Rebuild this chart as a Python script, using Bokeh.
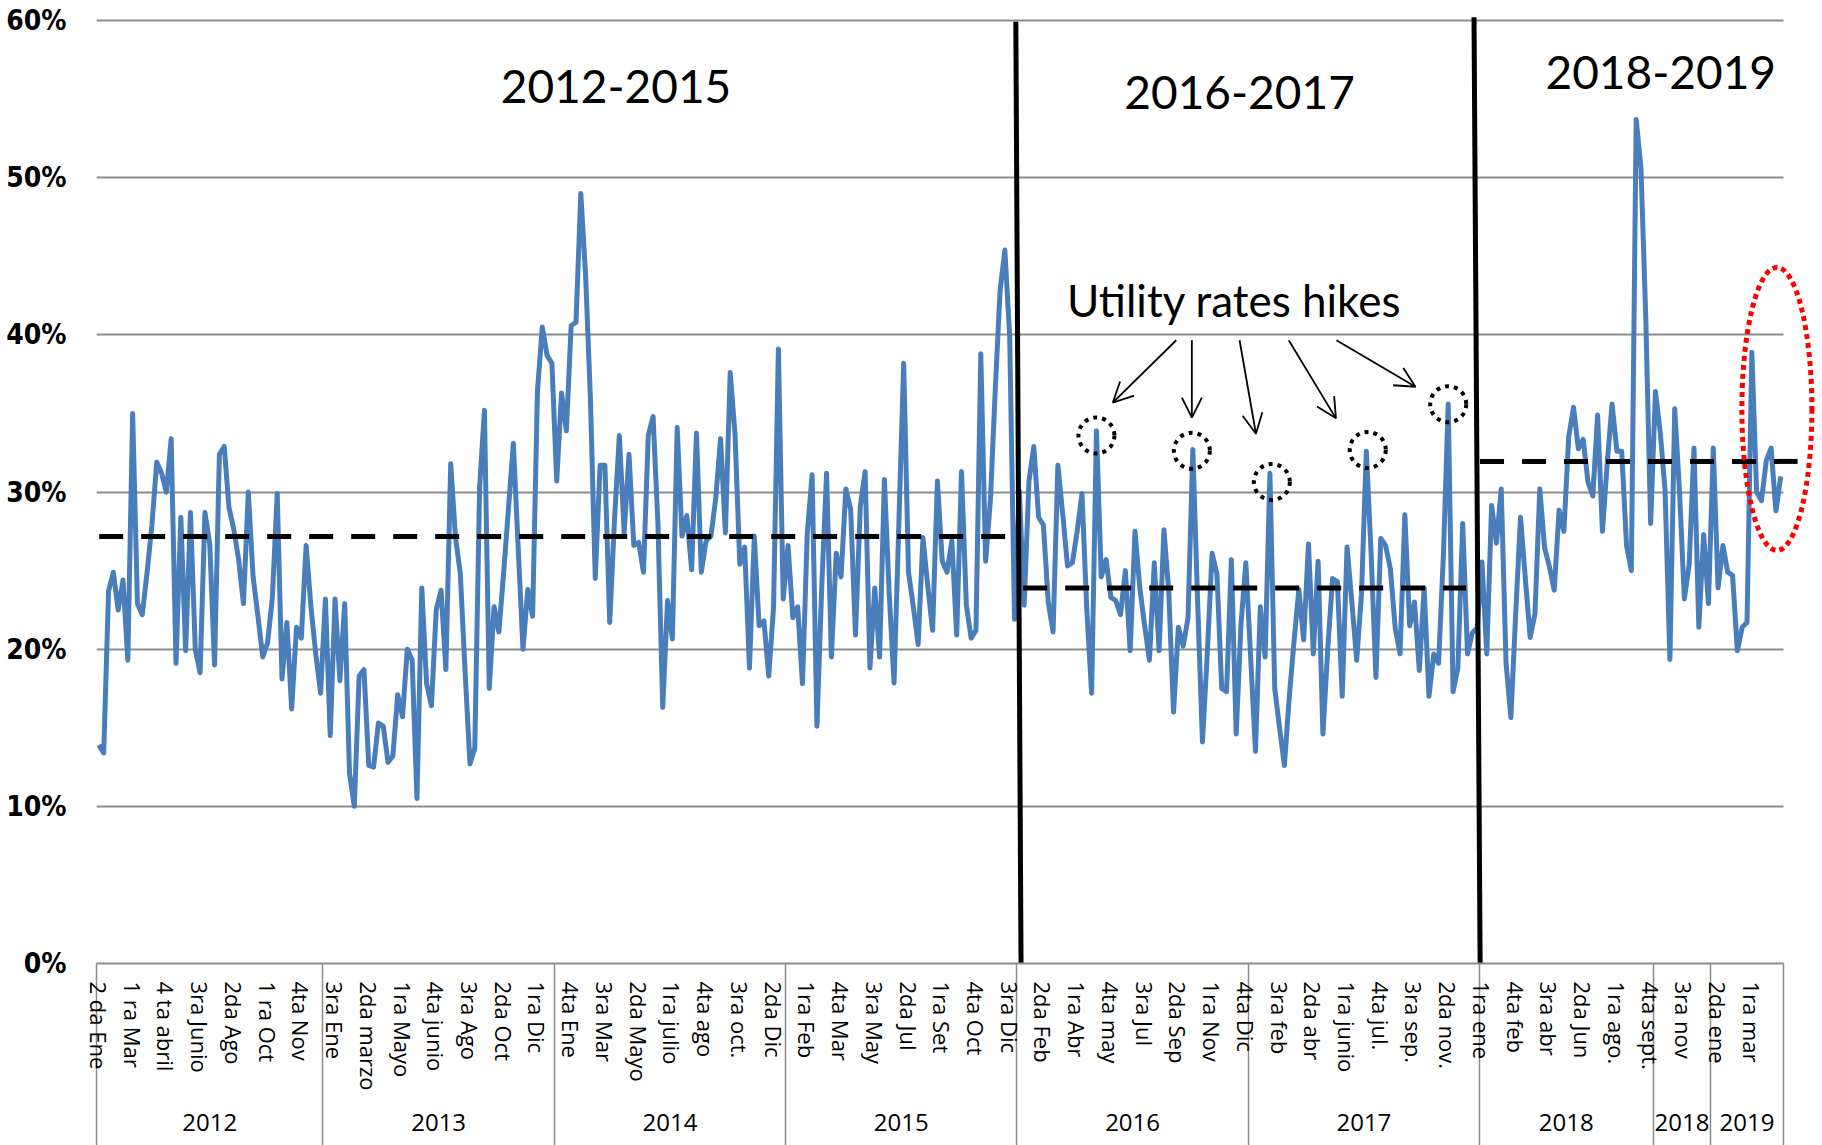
from bokeh.plotting import figure
from bokeh.models import (Range1d, FixedTicker, LinearAxis, PrintfTickFormatter,
                          Arrow, OpenHead)
from bokeh.core.properties import value
from bokeh.embed import file_html
from bokeh.resources import INLINE

# ---------------- data (weekly share, %) ----------------
v2012 = [13.9, 13.4, 23.7, 24.9, 22.5, 24.4, 19.3, 35.0, 22.9, 22.2,
         24.9, 27.9, 31.9, 31.2, 30.0, 33.4, 19.1, 28.4, 19.9, 28.7,
         20.0, 18.5, 28.7, 26.7, 19.0, 32.4, 32.9, 29.0, 27.6, 25.7,
         22.9, 30.0, 24.6, 22.1, 19.5, 20.4, 23.3, 29.9, 18.1, 21.7,
         16.2, 21.4, 20.7, 26.6, 22.7, 19.7, 17.2]
v2013 = [23.2, 14.5, 23.2, 18.0, 22.9, 12.1, 10.0, 18.3, 18.7, 12.6,
         12.5, 15.3, 15.1, 12.8, 13.2, 17.1, 15.7, 20.0, 19.3, 10.5,
         23.9, 17.8, 16.4, 22.5, 23.75, 18.7, 31.8, 27.1, 24.8, 18.5,
         12.7, 13.7, 30.3, 35.2, 17.5, 22.7, 21.1, 24.9, 29.0, 33.1,
         26.5, 20.0, 23.8, 22.1, 36.4, 40.5, 38.7, 38.2]
v2014 = [30.7, 36.3, 33.9, 40.6, 40.8, 49.0, 43.75, 35.9, 24.5, 31.7,
         31.7, 21.7, 28.3, 33.6, 27.4, 32.4, 26.6, 26.8, 24.9, 33.6,
         34.8, 28.0, 16.3, 23.1, 20.65, 34.1, 27.2, 28.5, 25.05, 33.75,
         24.9, 26.9, 27.2, 29.6, 33.4, 27.4, 37.6, 33.7, 25.4, 26.5,
         18.8, 27.2, 21.5, 21.8, 18.3, 22.7, 39.1, 23.2]
v2015 = [26.6, 22.0, 22.7, 17.8, 27.4, 31.1, 15.1, 24.0, 31.2, 19.5,
         26.1, 24.6, 30.2, 28.9, 20.9, 29.1, 31.3, 18.8, 23.9, 19.5,
         30.8, 23.5, 17.85, 28.0, 38.2, 24.9, 22.7, 20.3, 27.1, 24.0,
         21.2, 30.7, 25.6, 24.9, 26.9, 20.9, 31.3, 22.8, 20.7, 21.2,
         38.8, 25.6, 29.5, 36.5, 42.8, 45.4, 39.9, 21.9]
v2016 = [30.1, 22.8, 30.7, 32.9, 28.4, 27.9, 23.0, 21.1, 31.7, 28.6,
         25.3, 25.5, 27.5, 29.9, 22.5, 17.2, 33.9, 24.6, 25.7, 23.3,
         23.1, 22.2, 25.0, 19.9, 27.5, 23.9, 21.5, 19.3, 25.5, 19.9,
         27.6, 23.7, 16.0, 21.4, 20.2, 22.0, 32.7, 23.0, 14.1, 19.7,
         26.1, 24.8, 17.5, 17.3, 25.7, 14.6, 21.6, 25.5]
v2017 = [19.5, 13.5, 22.7, 19.5, 31.2, 17.5, 15.0, 12.6, 16.9, 20.5,
         23.8, 20.6, 26.7, 19.7, 25.6, 14.6, 20.0, 24.5, 24.3, 17.0,
         26.5, 23.0, 19.3, 23.5, 32.6, 26.1, 18.2, 27.05, 26.6, 25.1,
         21.35, 19.7, 28.55, 21.5, 23.0, 18.65, 23.9, 17.0, 19.7, 19.1,
         26.0, 35.6, 17.3, 18.8, 28.0, 19.7, 21.05, 21.35]
v2018 = [25.55, 19.7, 29.15, 26.75, 30.2, 19.1, 15.65, 22.25, 28.4, 24.5,
         20.75, 22.25, 30.2, 26.45, 25.25, 23.75, 28.85, 27.5, 33.5, 35.4,
         32.75, 33.35, 30.65, 29.75, 34.9, 27.5, 31.85, 35.6, 32.6, 32.6,
         26.6, 25.0, 53.7, 50.6, 41.0, 28.0, 36.4, 33.8, 30.1, 19.35,
         35.3, 30.0, 23.2, 25.4, 32.8, 21.4, 27.3, 22.9]
v2019 = [32.8, 23.9, 26.6, 24.9, 24.7, 19.9, 21.4, 21.7, 38.9, 30.0,
         29.45, 32.0, 32.8, 28.8, 31.0]

values = v2012 + v2013 + v2014 + v2015 + v2016 + v2017 + v2018 + v2019
week_idx = list(range(len(values)))

# category tick labels (every 7th week) and year groups
label_idx = [0, 7, 14, 21, 28, 35, 42, 49, 56, 63, 70, 77, 84, 91,
             98, 105, 112, 119, 126, 133, 140, 147, 154, 161, 168, 175, 182, 189,
             196, 203, 210, 217, 224, 231, 238, 245, 252, 259, 266, 273, 280,
             287, 294, 301, 308, 315, 322, 329, 336, 343]
label_txt = ["2 da Ene", "1 ra Mar", "4 ta abril", "3ra Junio", "2da Ago", "1 ra Oct", "4ta Nov",
             "3ra Ene", "2da marzo", "1ra Mayo", "4ta junio", "3ra Ago", "2da Oct", "1ra Dic",
             "4ta Ene", "3ra Mar", "2da Mayo", "1ra julio", "4ta ago", "3ra oct.", "2da Dic",
             "1ra Feb", "4ta Mar", "3ra May", "2da Jul", "1ra Set", "4ta Oct", "3ra Dic",
             "2da Feb", "1ra Abr", "4ta may", "3ra Jul", "2da Sep", "1ra Nov", "4ta Dic",
             "3ra feb", "2da abr", "1ra junio", "4ta jul.", "3ra sep.", "2da nov.",
             "1ra ene", "4ta feb", "3ra abr", "2da Jun", "1ra ago.", "4ta sept.", "3ra nov",
             "2da ene", "1ra mar"]
year_txt = ["2012", "2013", "2014", "2015", "2016", "2017", "2018", "2018", "2019"]
year_bounds = [-0.5, 46.5, 94.5, 142.5, 190.5, 238.5, 286.5, 322.5, 334.5, 349.5]
year_centers = [(a + b) / 2 for a, b in zip(year_bounds[:-1], year_bounds[1:])]

# period averages
period_names = ["2012-2015", "2016-2017", "2018-2019"]
period_avg = [27.17, 23.9, 31.95]
avg_start = [0.06, 191.8, 286.6]
avg_end = [188.1, 283.7, 352.5]

y_ticks = [0, 10, 20, 30, 40, 50, 60]

# ---------------- annotation placement ----------------
period_x = [107.3, 236.7, 324.1]
period_y = [55.8, 55.4, 56.7]
div_x_top = [190.27, 285.35]
div_y_top = [59.92, 60.21]
div_x_bot = [191.35, 286.62]
div_y_bot = [0, 0]
hike_x = [207.0, 226.8, 243.4, 263.3, 280.0]
hike_y = [33.6, 32.63, 30.64, 32.68, 35.59]
arr_x0 = [223.55, 226.8, 236.7, 246.9, 256.8]
arr_y0 = [39.66, 39.66, 39.66, 39.66, 39.66]
arr_x1 = [210.4, 226.8, 240.1, 256.7, 273.2]
arr_y1 = [35.69, 34.73, 33.71, 34.69, 36.70]

NARROW = "DejaVu Sans Condensed, Liberation Sans Narrow, sans-serif"
GRID = "#8c8c8c"
SEP_LEN = 190

W, H = 1816, 1145
LEFT, TOP, BOTTOM = 96, 12, 182
PX_PER_WEEK = 4.819
PX_PER_PCT = 15.715

p = figure(width=W, height=H, output_backend="svg", toolbar_location=None,
           x_range=Range1d(-0.5, -0.5 + (W - LEFT) / PX_PER_WEEK),
           y_range=Range1d(0, (H - TOP - BOTTOM) / PX_PER_PCT),
           min_border_left=LEFT, min_border_right=0, min_border_top=TOP,
           min_border_bottom=BOTTOM)
p.outline_line_color = None
p.background_fill_color = "white"

# x axis 1 : week labels + year separators (minor ticks running to the bottom)
ax = p.below[0]
ax.ticker = FixedTicker(ticks=label_idx, minor_ticks=year_bounds)
ax.major_label_overrides = dict(zip(label_idx, label_txt))
ax.major_label_orientation = "vertical"
ax.major_tick_out = 0
ax.major_tick_in = 0
ax.minor_tick_in = 0
ax.minor_tick_out = SEP_LEN
ax.minor_tick_line_color = GRID
ax.minor_tick_line_width = 1.5
ax.axis_line_color = GRID
ax.axis_line_width = 2
ax.bounds = (-0.5, 349.5)
ax.major_label_standoff = 18 - SEP_LEN
ax.major_label_text_font = "Open Sans"
ax.major_label_text_font_size = "22px"
ax.major_label_text_color = "black"

# x axis 2 : years
ax2 = LinearAxis(ticker=FixedTicker(ticks=year_centers),
                 major_label_overrides=dict(zip(year_centers, year_txt)),
                 axis_line_color=None, major_tick_out=0, major_tick_in=0,
                 minor_tick_out=0, minor_tick_in=0, major_label_standoff=20,
                 major_label_text_font="Open Sans", major_label_text_font_size="24px",
                 major_label_text_color="black", bounds=(-0.5, 349.5))
p.add_layout(ax2, "below")

# y axis
yax = p.left[0]
yax.ticker = FixedTicker(ticks=y_ticks)
yax.formatter = PrintfTickFormatter(format="%d%%")
yax.axis_line_color = None
yax.major_tick_out = 0
yax.major_tick_in = 0
yax.minor_tick_out = 0
yax.minor_tick_in = 0
yax.major_label_standoff = 30
yax.major_label_text_font = NARROW
yax.major_label_text_font_style = "bold"
yax.major_label_text_font_size = "28px"
yax.major_label_text_color = "black"

# grid
p.xgrid.visible = False
g = p.ygrid[0]
if "cross_bounds" in g.properties():
    g.ticker = FixedTicker(ticks=y_ticks)
    g.cross_bounds = (-0.5, 349.5)
    g.grid_line_color = GRID
    g.grid_line_width = 2
else:
    g.visible = False
    p.segment(x0=[-0.5] * len(y_ticks), x1=[349.5] * len(y_ticks),
              y0=y_ticks, y1=y_ticks, line_color=GRID, line_width=2)

# data line
p.line(week_idx, values, line_color="#4a7ebb", line_width=5, line_join="round")

# averages
p.segment(x0=avg_start, x1=avg_end, y0=period_avg, y1=period_avg,
          line_color="black", line_width=5, line_dash="24 18")

# period dividers
p.segment(x0=div_x_top, y0=div_y_top, x1=div_x_bot, y1=div_y_bot,
          line_color="black", line_width=5)

# texts
p.text(x=period_x, y=period_y, text=period_names, text_font=value("Lato"),
       text_font_size=value("46px"), text_align="center", text_baseline="middle",
       text_color="black")
p.text(x=[235.6], y=[42.2], text=["Utility rates hikes"], text_font=value("Lato"),
       text_font_size=value("44px"), text_align="center", text_baseline="middle",
       text_color="black")

# hikes markers
p.ellipse(x=hike_x, y=hike_y, width=36, height=36, width_units="screen",
          height_units="screen", fill_color=None, line_color="black",
          line_width=4, line_dash="4 5")
for x0, y0, x1, y1 in zip(arr_x0, arr_y0, arr_x1, arr_y1):
    p.add_layout(Arrow(end=OpenHead(size=20, line_width=1.8, line_color="black"),
                       x_start=x0, y_start=y0, x_end=x1, y_end=y1,
                       line_width=1.8, line_color="black"))

# red ellipse around 2019
p.ellipse(x=[348.2], y=[35.29], width=70, height=283, width_units="screen",
          height_units="screen", fill_color=None, line_color="#ff0000",
          line_width=5, line_dash="5 4")

open("out.html", "w").write(file_html(p, INLINE))
